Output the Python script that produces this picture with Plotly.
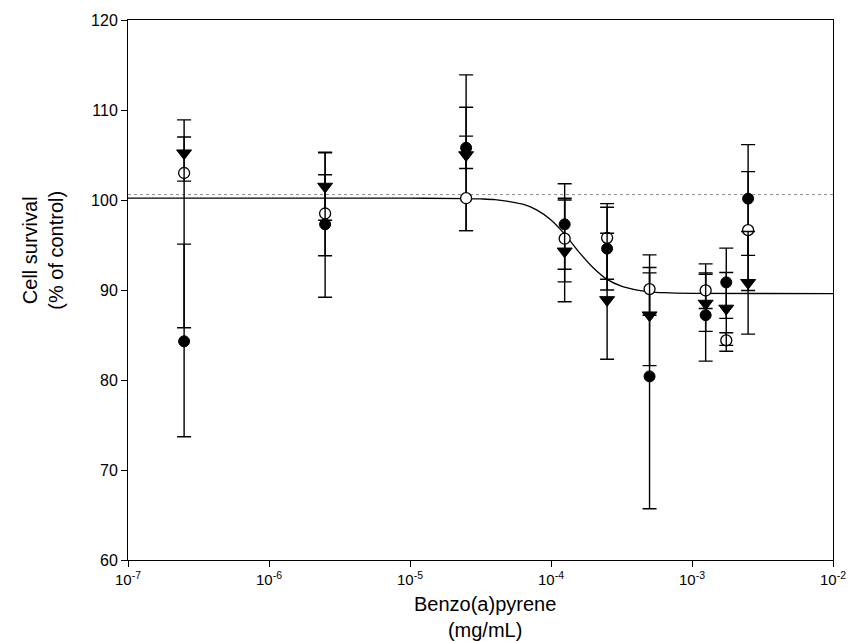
import plotly.graph_objects as go

# Benzo(a)pyrene concentrations (mg/mL)
conc = [2.5e-7, 2.5e-6, 2.5e-5, 1.25e-4, 2.5e-4, 5e-4, 1.25e-3, 1.75e-3, 2.5e-3]

# Experiment 1 (filled circles): survival and error bar extents
exp1_y = [84.3, 97.3, 105.8, 97.3, 94.6, 80.4, 87.2, 90.85, 100.15]
exp1_up = [10.8, 8.0, 8.1, 4.5, 4.6, 13.5, 5.7, 3.8, 6.0]
exp1_dn = [10.6, 8.1, 9.2, 5.0, 4.6, 14.7, 5.1, 4.0, 6.3]

# Experiment 2 (open circles)
exp2_y = [103.0, 98.5, 100.2, 95.7, 95.8, 90.1, 89.95, 84.4, 96.65]
exp2_up = [4.0, 4.3, 6.9, 4.5, 3.8, 1.8, 1.8, 0.85, 6.5]
exp2_dn = [17.2, 4.7, 3.6, 4.8, 4.6, 2.9, 2.0, 1.2, 6.7]

# Experiment 3 (filled down-triangles)
exp3_y = [105.2, 101.5, 105.0, 94.3, 88.9, 87.2, 88.5, 87.95, 90.8]
exp3_up = [3.7, 3.75, 5.3, 5.7, 7.4, 5.3, 3.4, 4.0, 5.7]
exp3_dn = [3.1, 3.75, 1.5, 5.6, 6.6, 5.6, 3.1, 4.1, 5.7]

# Sigmoidal dose-response fit
fit_conc = [1e-7, 1e-5, 2.5e-5, 3.16e-5, 4e-5, 6.3e-5, 7.9e-5, 1e-4, 1.26e-4,
            1.58e-4, 2e-4, 2.5e-4, 3.16e-4, 4e-4, 5e-4, 6.3e-4, 1e-3, 1e-2]
fit_y = [100.2, 100.2, 100.16, 100.12, 100.04, 99.53, 98.9, 97.79, 96.15,
         94.21, 92.45, 91.18, 90.42, 90.01, 89.8, 89.7, 89.62, 89.6]

# Mean control survival (dotted reference line)
control_level = 100.6

x_tickvals = [1e-7, 1e-6, 1e-5, 1e-4, 1e-3, 1e-2]
x_ticktext = ["10<sup>-7</sup>", "10<sup>-6</sup>", "10<sup>-5</sup>",
              "10<sup>-4</sup>", "10<sup>-3</sup>", "10<sup>-2</sup>"]
y_tickvals = [60, 70, 80, 90, 100, 110, 120]

FONT = "Liberation Sans, Arial, sans-serif"

fig = go.Figure()

fig.add_trace(go.Scatter(
    x=fit_conc, y=fit_y, mode="lines",
    line=dict(color="black", width=1.3, shape="spline", smoothing=0.8),
    hoverinfo="skip", showlegend=False))


def err(up, dn):
    return dict(type="data", symmetric=False, array=up, arrayminus=dn,
                color="black", thickness=1.4, width=7)


fig.add_trace(go.Scatter(
    x=conc, y=exp1_y, mode="markers", error_y=err(exp1_up, exp1_dn),
    marker=dict(symbol="circle", size=11, color="black",
                line=dict(color="black", width=1)),
    showlegend=False))

fig.add_trace(go.Scatter(
    x=conc, y=exp2_y, mode="markers", error_y=err(exp2_up, exp2_dn),
    marker=dict(symbol="circle", size=11, color="white",
                line=dict(color="black", width=1.3)),
    showlegend=False))

fig.add_trace(go.Scatter(
    x=conc, y=exp3_y, mode="markers", error_y=err(exp3_up, exp3_dn),
    marker=dict(symbol="triangle-down", size=13, color="black",
                line=dict(color="black", width=1)),
    showlegend=False))

# Control reference line
fig.add_shape(type="line", xref="paper", x0=0, x1=1, yref="y",
              y0=control_level, y1=control_level,
              line=dict(color="#888888", width=1, dash="dot"), layer="below")

fig.update_xaxes(
    type="log", range=[-7, -2], tickvals=x_tickvals, ticktext=x_ticktext,
    ticks="outside", ticklen=6, tickwidth=1, tickcolor="black",
    showline=True, linecolor="black", linewidth=1, mirror=True,
    showgrid=False, zeroline=False,
    tickfont=dict(family=FONT, size=15, color="black"))

fig.update_yaxes(
    range=[60, 120], tickvals=y_tickvals,
    ticks="outside", ticklen=6, tickwidth=1, tickcolor="black",
    showline=True, linecolor="black", linewidth=1, mirror=True,
    showgrid=False, zeroline=False,
    tickfont=dict(family=FONT, size=16, color="black"))

fig.add_annotation(
    text="Cell survival<br>(% of control)", xref="paper", yref="paper",
    x=-0.121, y=0.574, xanchor="center", yanchor="middle",
    textangle=-90, showarrow=False,
    font=dict(family=FONT, size=20, color="black"))

fig.add_annotation(
    text="Benzo(a)pyrene<br>(mg/mL)", xref="paper", yref="paper",
    x=0.506, y=-0.106, xanchor="center", yanchor="middle", showarrow=False,
    font=dict(family=FONT, size=20, color="black"))

fig.update_layout(
    width=858, height=641,
    margin=dict(l=128, r=20, t=20, b=81),
    paper_bgcolor="white", plot_bgcolor="white",
    font=dict(family=FONT, color="black"))

fig.write_html("out.html")
